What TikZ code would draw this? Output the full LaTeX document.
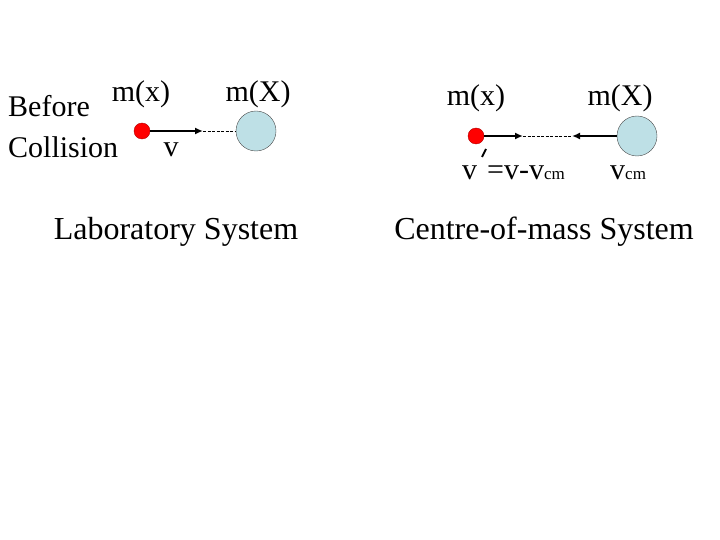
\documentclass[tikz,border=0pt]{standalone}
\usepackage{fontspec}
\usetikzlibrary{arrows.meta}
\setmainfont{Liberation Serif}
\begin{document}
\begin{tikzpicture}[x=1pt,y=-1pt,
  lbl/.style={inner sep=0pt,font=\fontsize{30}{32}\selectfont},
  sm/.style={inner sep=0pt,font=\fontsize{32}{34}\selectfont},
  red/.style={circle,fill=red,draw=red!70!black,minimum size=16pt,inner sep=0pt},
  big/.style={circle,fill={rgb,255:red,190;green,224;blue,230},draw=black!70,minimum size=40pt,inner sep=0pt},
  arr/.style={line width=2.5pt,-{Latex[length=8pt,width=7pt]}},
  dsh/.style={dashed,thin,dash pattern=on 3pt off 1.5pt}]
\useasboundingbox (0,0) rectangle (720,540);
\node[lbl,anchor=west] (bef) at (8,106) {Before};
\node[lbl,anchor=west] (col) at (8,147) {Collision};
\node[lbl] (mx1) at (141,94) {m(x)};
\node[lbl] (mX1) at (258,94) {m(X)};
\node[lbl] (v1) at (171,150) {v};
\node[red] (r1) at (142,131) {};
\node[big] (b1) at (256,131) {};
\coordinate (h1) at (203,131);
\draw[arr] (r1.east) -- (h1);
\draw[dsh] (h1) -- (b1.west);
\node[sm] (lab) at (176,232) {Laboratory System};
\node[lbl] (mx2) at (476,98) {m(x)};
\node[lbl] (mX2) at (620,98) {m(X)};
\node[red] (r2) at (476,136) {};
\node[big] (b2) at (637,136) {};
\coordinate (h2) at (523,136);
\coordinate (h3) at (572,136);
\draw[arr] (r2.east) -- (h2);
\draw[dsh] (h2) -- (h3);
\draw[arr] (b2.west) -- (h3);
\draw[line width=2pt] (486,149) -- (482,157);
\node[lbl,anchor=west] (v2) at (462,173) {v\,\,=v-v{\fontsize{17}{18}\selectfont cm}};
\node[lbl,anchor=west] (v3) at (610,173) {v{\fontsize{17}{18}\selectfont cm}};
\node[sm] (cm) at (544,232) {Centre-of-mass System};
\end{tikzpicture}
\end{document}
